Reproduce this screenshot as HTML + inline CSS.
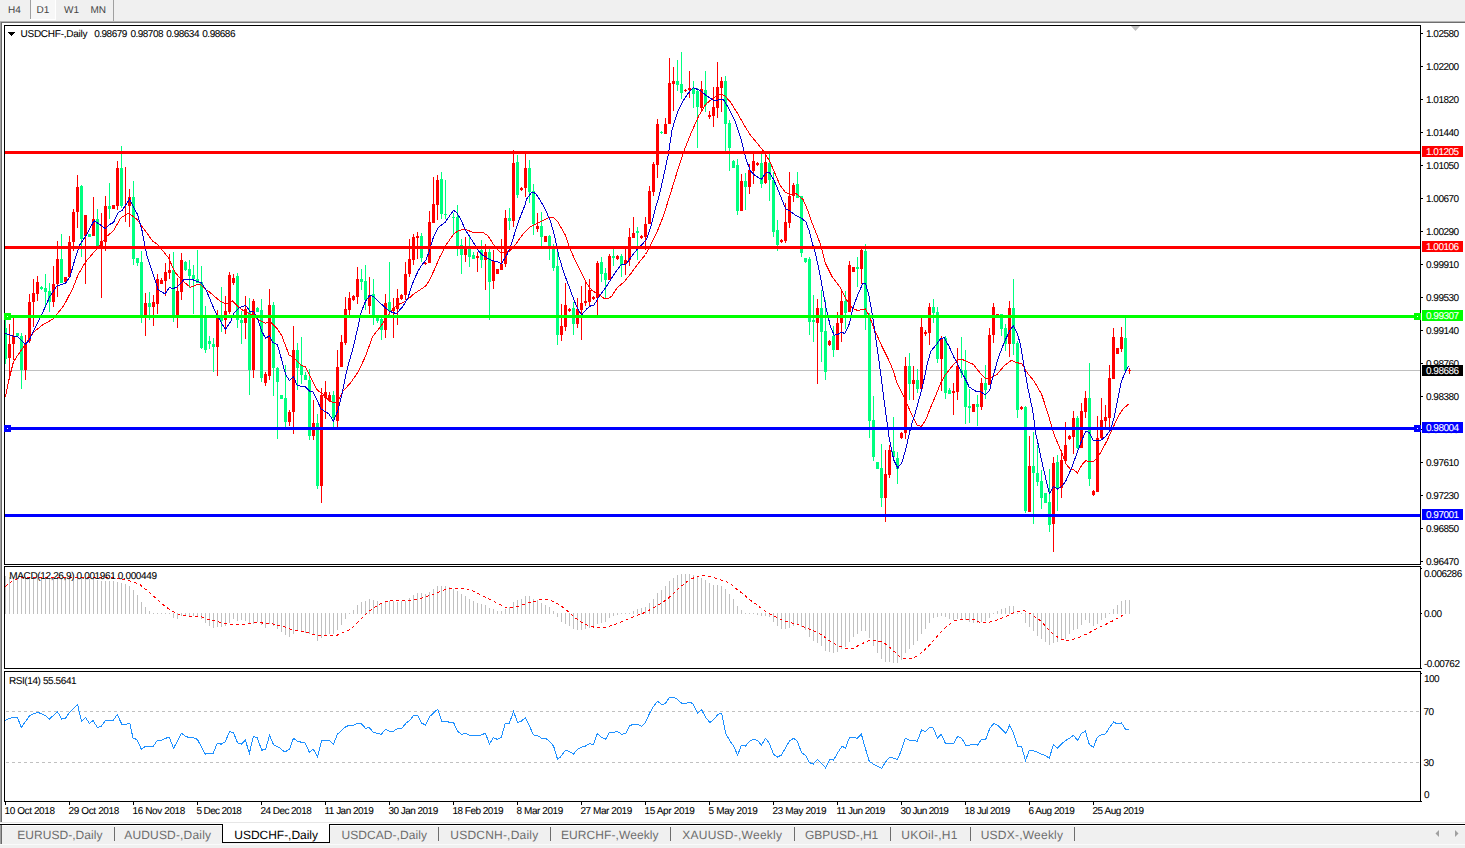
<!DOCTYPE html><html><head><meta charset="utf-8"><title>USDCHF-,Daily</title><style>
html,body{margin:0;padding:0;background:#fff;}body{width:1465px;height:848px;overflow:hidden;position:relative;font-family:"Liberation Sans",sans-serif;}
svg{position:absolute;left:0;top:0;display:block}
text{font-family:"Liberation Sans",sans-serif;text-rendering:geometricPrecision}
.ax{font-size:10px;letter-spacing:-0.5px;fill:#000;stroke:#000;stroke-width:0.08px}
.axw{font-size:10px;letter-spacing:-0.5px;fill:#fff;stroke:#fff;stroke-width:0.08px}
.tt{font-size:10px;fill:#000;stroke:#000;stroke-width:0.08px}
.tab{font-size:12px;fill:#6d6d6d}
.taba{font-size:12px;fill:#000}
.tb{font-size:10px;fill:#444}
</style></head><body>
<svg width="1465" height="848" viewBox="0 0 1465 848">
<g shape-rendering="crispEdges">
<rect x="0" y="0" width="1465" height="848" fill="#fff"/>
<rect x="0" y="0" width="1465" height="21" fill="#f0f0f0"/>
<rect x="0" y="21" width="1465" height="1" fill="#b4b4b4"/>
<rect x="0" y="22" width="1465" height="1" fill="#6e6e6e"/>
<rect x="31" y="0" width="24" height="19" fill="#f7f7f7"/>
<rect x="55" y="0" width="1" height="20" fill="#fff"/>
<rect x="30" y="19" width="26" height="1" fill="#fff"/>
<rect x="30" y="0" width="1" height="19" fill="#a0a0a0"/>
<rect x="113" y="0" width="1" height="21" fill="#a0a0a0"/>
<rect x="0" y="22" width="1" height="800" fill="#a0a0a0"/>
<rect x="1" y="23" width="1" height="799" fill="#696969"/>
<rect x="0" y="822" width="1465" height="1" fill="#e6e6e6"/>
<rect x="0" y="824" width="1465" height="1" fill="#000"/>
<rect x="0" y="825" width="1465" height="1" fill="#fff"/>
<rect x="0" y="826" width="1465" height="18" fill="#f0f0f0"/>
<rect x="0" y="844" width="1465" height="1" fill="#fafafa"/>
<rect x="0" y="845" width="1465" height="3" fill="#f0f0f0"/>
<rect x="0" y="825" width="1" height="19" fill="#a0a0a0"/>
<rect x="1" y="825" width="1" height="19" fill="#696969"/>
<rect x="222" y="824" width="108" height="19" fill="#fff"/>
<rect x="222" y="824" width="1" height="19" fill="#000"/>
<rect x="329" y="824" width="1" height="19" fill="#000"/>
<rect x="222" y="842" width="108" height="1" fill="#000"/>
<rect x="114" y="827" width="1" height="14" fill="#6d6d6d"/>
<rect x="438" y="827" width="1" height="14" fill="#6d6d6d"/>
<rect x="550" y="827" width="1" height="14" fill="#6d6d6d"/>
<rect x="670" y="827" width="1" height="14" fill="#6d6d6d"/>
<rect x="794" y="827" width="1" height="14" fill="#6d6d6d"/>
<rect x="890" y="827" width="1" height="14" fill="#6d6d6d"/>
<rect x="970" y="827" width="1" height="14" fill="#6d6d6d"/>
<rect x="1074" y="827" width="1" height="14" fill="#6d6d6d"/>
<rect x="5" y="370" width="1415" height="1" fill="#c0c0c0"/>
</g>
<g shape-rendering="crispEdges">
<rect x="5" y="316" width="1" height="48" fill="#00ff7f"/>
<rect x="4" y="328" width="3" height="31" fill="#00ff7f"/>
<rect x="9" y="324" width="1" height="51" fill="#ff0000"/>
<rect x="8" y="344" width="3" height="14" fill="#ff0000"/>
<rect x="13" y="318" width="1" height="42" fill="#ff0000"/>
<rect x="12" y="336" width="3" height="8" fill="#ff0000"/>
<rect x="17" y="333" width="1" height="3" fill="#00ff7f"/>
<rect x="16" y="333" width="3" height="3" fill="#00ff7f"/>
<rect x="21" y="333" width="1" height="56" fill="#00ff7f"/>
<rect x="20" y="336" width="3" height="34" fill="#00ff7f"/>
<rect x="25" y="335" width="1" height="45" fill="#ff0000"/>
<rect x="24" y="344" width="3" height="26" fill="#ff0000"/>
<rect x="29" y="294" width="1" height="49" fill="#ff0000"/>
<rect x="28" y="302" width="3" height="39" fill="#ff0000"/>
<rect x="33" y="279" width="1" height="48" fill="#ff0000"/>
<rect x="32" y="293" width="3" height="9" fill="#ff0000"/>
<rect x="37" y="276" width="1" height="25" fill="#ff0000"/>
<rect x="36" y="282" width="3" height="12" fill="#ff0000"/>
<rect x="41" y="286" width="1" height="4" fill="#00ff7f"/>
<rect x="40" y="287" width="3" height="2" fill="#00ff7f"/>
<rect x="45" y="274" width="1" height="34" fill="#00ff7f"/>
<rect x="44" y="288" width="3" height="4" fill="#00ff7f"/>
<rect x="49" y="283" width="1" height="29" fill="#00ff7f"/>
<rect x="48" y="291" width="3" height="11" fill="#00ff7f"/>
<rect x="53" y="266" width="1" height="41" fill="#ff0000"/>
<rect x="52" y="284" width="3" height="18" fill="#ff0000"/>
<rect x="57" y="241" width="1" height="56" fill="#ff0000"/>
<rect x="56" y="259" width="3" height="25" fill="#ff0000"/>
<rect x="61" y="234" width="1" height="49" fill="#00ff7f"/>
<rect x="60" y="259" width="3" height="24" fill="#00ff7f"/>
<rect x="65" y="277" width="1" height="5" fill="#ff0000"/>
<rect x="64" y="277" width="3" height="5" fill="#ff0000"/>
<rect x="69" y="236" width="1" height="41" fill="#ff0000"/>
<rect x="68" y="242" width="3" height="35" fill="#ff0000"/>
<rect x="73" y="209" width="1" height="42" fill="#ff0000"/>
<rect x="72" y="212" width="3" height="30" fill="#ff0000"/>
<rect x="77" y="175" width="1" height="53" fill="#ff0000"/>
<rect x="76" y="187" width="3" height="25" fill="#ff0000"/>
<rect x="81" y="185" width="1" height="72" fill="#00ff7f"/>
<rect x="80" y="186" width="3" height="53" fill="#00ff7f"/>
<rect x="85" y="215" width="1" height="69" fill="#ff0000"/>
<rect x="84" y="215" width="3" height="21" fill="#ff0000"/>
<rect x="89" y="234" width="1" height="3" fill="#00ff7f"/>
<rect x="88" y="234" width="3" height="3" fill="#00ff7f"/>
<rect x="93" y="197" width="1" height="39" fill="#ff0000"/>
<rect x="92" y="219" width="3" height="17" fill="#ff0000"/>
<rect x="97" y="209" width="1" height="37" fill="#00ff7f"/>
<rect x="96" y="219" width="3" height="27" fill="#00ff7f"/>
<rect x="101" y="213" width="1" height="85" fill="#ff0000"/>
<rect x="100" y="241" width="3" height="5" fill="#ff0000"/>
<rect x="105" y="196" width="1" height="55" fill="#ff0000"/>
<rect x="104" y="206" width="3" height="36" fill="#ff0000"/>
<rect x="109" y="183" width="1" height="36" fill="#00ff7f"/>
<rect x="108" y="206" width="3" height="3" fill="#00ff7f"/>
<rect x="113" y="205" width="1" height="4" fill="#ff0000"/>
<rect x="112" y="205" width="3" height="4" fill="#ff0000"/>
<rect x="117" y="161" width="1" height="49" fill="#ff0000"/>
<rect x="116" y="168" width="3" height="38" fill="#ff0000"/>
<rect x="121" y="146" width="1" height="62" fill="#00ff7f"/>
<rect x="120" y="168" width="3" height="38" fill="#00ff7f"/>
<rect x="125" y="167" width="1" height="55" fill="#ff0000"/>
<rect x="129" y="189" width="1" height="38" fill="#ff0000"/>
<rect x="128" y="197" width="3" height="9" fill="#ff0000"/>
<rect x="133" y="181" width="1" height="84" fill="#00ff7f"/>
<rect x="132" y="197" width="3" height="62" fill="#00ff7f"/>
<rect x="137" y="258" width="1" height="8" fill="#00ff7f"/>
<rect x="136" y="258" width="3" height="5" fill="#00ff7f"/>
<rect x="141" y="251" width="1" height="72" fill="#00ff7f"/>
<rect x="140" y="262" width="3" height="53" fill="#00ff7f"/>
<rect x="145" y="293" width="1" height="43" fill="#ff0000"/>
<rect x="144" y="303" width="3" height="12" fill="#ff0000"/>
<rect x="149" y="292" width="1" height="28" fill="#00ff7f"/>
<rect x="148" y="303" width="3" height="4" fill="#00ff7f"/>
<rect x="153" y="295" width="1" height="31" fill="#ff0000"/>
<rect x="152" y="302" width="3" height="5" fill="#ff0000"/>
<rect x="157" y="274" width="1" height="40" fill="#ff0000"/>
<rect x="156" y="279" width="3" height="25" fill="#ff0000"/>
<rect x="161" y="278" width="1" height="6" fill="#ff0000"/>
<rect x="160" y="280" width="3" height="4" fill="#ff0000"/>
<rect x="165" y="263" width="1" height="33" fill="#ff0000"/>
<rect x="164" y="272" width="3" height="9" fill="#ff0000"/>
<rect x="169" y="254" width="1" height="25" fill="#ff0000"/>
<rect x="168" y="270" width="3" height="3" fill="#ff0000"/>
<rect x="173" y="252" width="1" height="70" fill="#00ff7f"/>
<rect x="172" y="270" width="3" height="45" fill="#00ff7f"/>
<rect x="177" y="278" width="1" height="50" fill="#ff0000"/>
<rect x="176" y="291" width="3" height="24" fill="#ff0000"/>
<rect x="181" y="253" width="1" height="47" fill="#ff0000"/>
<rect x="180" y="260" width="3" height="32" fill="#ff0000"/>
<rect x="185" y="261" width="1" height="10" fill="#00ff7f"/>
<rect x="184" y="262" width="3" height="8" fill="#00ff7f"/>
<rect x="189" y="260" width="1" height="28" fill="#00ff7f"/>
<rect x="188" y="269" width="3" height="7" fill="#00ff7f"/>
<rect x="193" y="265" width="1" height="49" fill="#00ff7f"/>
<rect x="192" y="275" width="3" height="4" fill="#00ff7f"/>
<rect x="197" y="250" width="1" height="33" fill="#00ff7f"/>
<rect x="196" y="279" width="3" height="4" fill="#00ff7f"/>
<rect x="201" y="266" width="1" height="83" fill="#00ff7f"/>
<rect x="200" y="282" width="3" height="66" fill="#00ff7f"/>
<rect x="205" y="306" width="1" height="47" fill="#00ff7f"/>
<rect x="204" y="317" width="3" height="33" fill="#00ff7f"/>
<rect x="209" y="336" width="1" height="13" fill="#00ff7f"/>
<rect x="208" y="341" width="3" height="3" fill="#00ff7f"/>
<rect x="213" y="338" width="1" height="34" fill="#00ff7f"/>
<rect x="212" y="344" width="3" height="3" fill="#00ff7f"/>
<rect x="217" y="310" width="1" height="66" fill="#ff0000"/>
<rect x="216" y="317" width="3" height="30" fill="#ff0000"/>
<rect x="221" y="287" width="1" height="45" fill="#00ff7f"/>
<rect x="220" y="318" width="3" height="3" fill="#00ff7f"/>
<rect x="225" y="296" width="1" height="38" fill="#ff0000"/>
<rect x="224" y="311" width="3" height="9" fill="#ff0000"/>
<rect x="229" y="272" width="1" height="42" fill="#ff0000"/>
<rect x="228" y="275" width="3" height="37" fill="#ff0000"/>
<rect x="233" y="274" width="1" height="11" fill="#ff0000"/>
<rect x="232" y="278" width="3" height="5" fill="#ff0000"/>
<rect x="237" y="273" width="1" height="55" fill="#00ff7f"/>
<rect x="236" y="276" width="3" height="44" fill="#00ff7f"/>
<rect x="241" y="311" width="1" height="33" fill="#00ff7f"/>
<rect x="240" y="320" width="3" height="3" fill="#00ff7f"/>
<rect x="245" y="296" width="1" height="43" fill="#ff0000"/>
<rect x="244" y="309" width="3" height="14" fill="#ff0000"/>
<rect x="249" y="298" width="1" height="97" fill="#00ff7f"/>
<rect x="248" y="312" width="3" height="58" fill="#00ff7f"/>
<rect x="253" y="299" width="1" height="79" fill="#ff0000"/>
<rect x="252" y="301" width="3" height="69" fill="#ff0000"/>
<rect x="257" y="307" width="1" height="5" fill="#00ff7f"/>
<rect x="256" y="308" width="3" height="4" fill="#00ff7f"/>
<rect x="261" y="299" width="1" height="83" fill="#00ff7f"/>
<rect x="260" y="310" width="3" height="68" fill="#00ff7f"/>
<rect x="265" y="372" width="1" height="14" fill="#ff0000"/>
<rect x="264" y="374" width="3" height="9" fill="#ff0000"/>
<rect x="269" y="289" width="1" height="91" fill="#ff0000"/>
<rect x="268" y="305" width="3" height="71" fill="#ff0000"/>
<rect x="273" y="302" width="1" height="94" fill="#00ff7f"/>
<rect x="272" y="305" width="3" height="63" fill="#00ff7f"/>
<rect x="277" y="367" width="1" height="72" fill="#00ff7f"/>
<rect x="276" y="368" width="3" height="14" fill="#00ff7f"/>
<rect x="281" y="395" width="1" height="4" fill="#00ff7f"/>
<rect x="280" y="395" width="3" height="4" fill="#00ff7f"/>
<rect x="285" y="365" width="1" height="62" fill="#00ff7f"/>
<rect x="284" y="398" width="3" height="24" fill="#00ff7f"/>
<rect x="289" y="410" width="1" height="16" fill="#ff0000"/>
<rect x="288" y="412" width="3" height="10" fill="#ff0000"/>
<rect x="293" y="326" width="1" height="108" fill="#ff0000"/>
<rect x="292" y="350" width="3" height="62" fill="#ff0000"/>
<rect x="297" y="343" width="1" height="47" fill="#00ff7f"/>
<rect x="296" y="350" width="3" height="18" fill="#00ff7f"/>
<rect x="301" y="337" width="1" height="47" fill="#00ff7f"/>
<rect x="300" y="365" width="3" height="10" fill="#00ff7f"/>
<rect x="305" y="372" width="1" height="8" fill="#00ff7f"/>
<rect x="304" y="375" width="3" height="5" fill="#00ff7f"/>
<rect x="309" y="369" width="1" height="71" fill="#00ff7f"/>
<rect x="308" y="380" width="3" height="56" fill="#00ff7f"/>
<rect x="313" y="400" width="1" height="40" fill="#ff0000"/>
<rect x="312" y="423" width="3" height="13" fill="#ff0000"/>
<rect x="317" y="414" width="1" height="75" fill="#00ff7f"/>
<rect x="316" y="423" width="3" height="63" fill="#00ff7f"/>
<rect x="321" y="388" width="1" height="115" fill="#ff0000"/>
<rect x="320" y="395" width="3" height="91" fill="#ff0000"/>
<rect x="325" y="381" width="1" height="38" fill="#ff0000"/>
<rect x="324" y="392" width="3" height="6" fill="#ff0000"/>
<rect x="329" y="392" width="1" height="9" fill="#ff0000"/>
<rect x="328" y="395" width="3" height="6" fill="#ff0000"/>
<rect x="333" y="391" width="1" height="36" fill="#00ff7f"/>
<rect x="332" y="395" width="3" height="23" fill="#00ff7f"/>
<rect x="337" y="350" width="1" height="77" fill="#ff0000"/>
<rect x="336" y="367" width="3" height="54" fill="#ff0000"/>
<rect x="341" y="335" width="1" height="32" fill="#ff0000"/>
<rect x="340" y="342" width="3" height="25" fill="#ff0000"/>
<rect x="345" y="297" width="1" height="48" fill="#ff0000"/>
<rect x="344" y="309" width="3" height="34" fill="#ff0000"/>
<rect x="349" y="292" width="1" height="23" fill="#ff0000"/>
<rect x="348" y="298" width="3" height="12" fill="#ff0000"/>
<rect x="353" y="295" width="1" height="6" fill="#ff0000"/>
<rect x="352" y="296" width="3" height="4" fill="#ff0000"/>
<rect x="357" y="267" width="1" height="37" fill="#ff0000"/>
<rect x="356" y="279" width="3" height="18" fill="#ff0000"/>
<rect x="361" y="269" width="1" height="21" fill="#00ff7f"/>
<rect x="360" y="279" width="3" height="3" fill="#00ff7f"/>
<rect x="365" y="265" width="1" height="45" fill="#00ff7f"/>
<rect x="364" y="281" width="3" height="19" fill="#00ff7f"/>
<rect x="369" y="277" width="1" height="37" fill="#ff0000"/>
<rect x="368" y="295" width="3" height="11" fill="#ff0000"/>
<rect x="373" y="279" width="1" height="46" fill="#00ff7f"/>
<rect x="372" y="294" width="3" height="24" fill="#00ff7f"/>
<rect x="377" y="318" width="1" height="5" fill="#00ff7f"/>
<rect x="376" y="318" width="3" height="3" fill="#00ff7f"/>
<rect x="381" y="318" width="1" height="22" fill="#00ff7f"/>
<rect x="380" y="319" width="3" height="11" fill="#00ff7f"/>
<rect x="385" y="294" width="1" height="44" fill="#ff0000"/>
<rect x="384" y="303" width="3" height="27" fill="#ff0000"/>
<rect x="389" y="262" width="1" height="56" fill="#00ff7f"/>
<rect x="388" y="302" width="3" height="9" fill="#00ff7f"/>
<rect x="393" y="298" width="1" height="40" fill="#ff0000"/>
<rect x="392" y="308" width="3" height="3" fill="#ff0000"/>
<rect x="397" y="289" width="1" height="36" fill="#ff0000"/>
<rect x="396" y="298" width="3" height="11" fill="#ff0000"/>
<rect x="401" y="294" width="1" height="6" fill="#ff0000"/>
<rect x="400" y="295" width="3" height="4" fill="#ff0000"/>
<rect x="405" y="262" width="1" height="38" fill="#ff0000"/>
<rect x="404" y="274" width="3" height="21" fill="#ff0000"/>
<rect x="409" y="239" width="1" height="38" fill="#ff0000"/>
<rect x="408" y="259" width="3" height="15" fill="#ff0000"/>
<rect x="413" y="234" width="1" height="31" fill="#ff0000"/>
<rect x="412" y="237" width="3" height="23" fill="#ff0000"/>
<rect x="417" y="232" width="1" height="27" fill="#ff0000"/>
<rect x="416" y="236" width="3" height="2" fill="#ff0000"/>
<rect x="421" y="233" width="1" height="29" fill="#00ff7f"/>
<rect x="420" y="236" width="3" height="22" fill="#00ff7f"/>
<rect x="425" y="262" width="1" height="3" fill="#ff0000"/>
<rect x="424" y="263" width="3" height="1" fill="#ff0000"/>
<rect x="429" y="211" width="1" height="52" fill="#ff0000"/>
<rect x="428" y="222" width="3" height="41" fill="#ff0000"/>
<rect x="433" y="177" width="1" height="46" fill="#ff0000"/>
<rect x="432" y="204" width="3" height="19" fill="#ff0000"/>
<rect x="437" y="175" width="1" height="45" fill="#ff0000"/>
<rect x="436" y="180" width="3" height="25" fill="#ff0000"/>
<rect x="441" y="172" width="1" height="47" fill="#00ff7f"/>
<rect x="440" y="179" width="3" height="35" fill="#00ff7f"/>
<rect x="445" y="180" width="1" height="39" fill="#00ff7f"/>
<rect x="444" y="214" width="3" height="1" fill="#00ff7f"/>
<rect x="453" y="213" width="1" height="22" fill="#00ff7f"/>
<rect x="452" y="217" width="3" height="1" fill="#00ff7f"/>
<rect x="457" y="205" width="1" height="51" fill="#00ff7f"/>
<rect x="456" y="217" width="3" height="29" fill="#00ff7f"/>
<rect x="461" y="239" width="1" height="35" fill="#00ff7f"/>
<rect x="460" y="245" width="3" height="10" fill="#00ff7f"/>
<rect x="465" y="237" width="1" height="25" fill="#ff0000"/>
<rect x="464" y="249" width="3" height="6" fill="#ff0000"/>
<rect x="469" y="237" width="1" height="30" fill="#00ff7f"/>
<rect x="468" y="249" width="3" height="8" fill="#00ff7f"/>
<rect x="473" y="252" width="1" height="7" fill="#00ff7f"/>
<rect x="472" y="255" width="3" height="4" fill="#00ff7f"/>
<rect x="477" y="252" width="1" height="20" fill="#ff0000"/>
<rect x="476" y="256" width="3" height="2" fill="#ff0000"/>
<rect x="481" y="240" width="1" height="28" fill="#00ff7f"/>
<rect x="480" y="250" width="3" height="10" fill="#00ff7f"/>
<rect x="485" y="244" width="1" height="46" fill="#ff0000"/>
<rect x="484" y="252" width="3" height="8" fill="#ff0000"/>
<rect x="489" y="249" width="1" height="71" fill="#00ff7f"/>
<rect x="488" y="252" width="3" height="30" fill="#00ff7f"/>
<rect x="493" y="250" width="1" height="39" fill="#ff0000"/>
<rect x="492" y="261" width="3" height="20" fill="#ff0000"/>
<rect x="497" y="269" width="1" height="5" fill="#ff0000"/>
<rect x="496" y="269" width="3" height="5" fill="#ff0000"/>
<rect x="501" y="239" width="1" height="31" fill="#ff0000"/>
<rect x="500" y="264" width="3" height="6" fill="#ff0000"/>
<rect x="505" y="210" width="1" height="57" fill="#ff0000"/>
<rect x="504" y="218" width="3" height="46" fill="#ff0000"/>
<rect x="509" y="208" width="1" height="22" fill="#00ff7f"/>
<rect x="508" y="218" width="3" height="3" fill="#00ff7f"/>
<rect x="513" y="150" width="1" height="77" fill="#ff0000"/>
<rect x="512" y="163" width="3" height="58" fill="#ff0000"/>
<rect x="517" y="155" width="1" height="43" fill="#00ff7f"/>
<rect x="516" y="162" width="3" height="33" fill="#00ff7f"/>
<rect x="521" y="187" width="1" height="4" fill="#ff0000"/>
<rect x="520" y="188" width="3" height="2" fill="#ff0000"/>
<rect x="525" y="154" width="1" height="43" fill="#ff0000"/>
<rect x="524" y="168" width="3" height="20" fill="#ff0000"/>
<rect x="529" y="160" width="1" height="43" fill="#00ff7f"/>
<rect x="528" y="168" width="3" height="24" fill="#00ff7f"/>
<rect x="533" y="184" width="1" height="51" fill="#00ff7f"/>
<rect x="532" y="191" width="3" height="33" fill="#00ff7f"/>
<rect x="537" y="213" width="1" height="19" fill="#ff0000"/>
<rect x="536" y="226" width="3" height="3" fill="#ff0000"/>
<rect x="541" y="212" width="1" height="34" fill="#00ff7f"/>
<rect x="540" y="226" width="3" height="11" fill="#00ff7f"/>
<rect x="545" y="236" width="1" height="6" fill="#ff0000"/>
<rect x="544" y="236" width="3" height="6" fill="#ff0000"/>
<rect x="549" y="235" width="1" height="25" fill="#00ff7f"/>
<rect x="548" y="236" width="3" height="10" fill="#00ff7f"/>
<rect x="553" y="244" width="1" height="27" fill="#00ff7f"/>
<rect x="552" y="246" width="3" height="22" fill="#00ff7f"/>
<rect x="557" y="246" width="1" height="99" fill="#00ff7f"/>
<rect x="556" y="266" width="3" height="69" fill="#00ff7f"/>
<rect x="561" y="304" width="1" height="37" fill="#ff0000"/>
<rect x="560" y="326" width="3" height="9" fill="#ff0000"/>
<rect x="565" y="283" width="1" height="48" fill="#ff0000"/>
<rect x="564" y="305" width="3" height="22" fill="#ff0000"/>
<rect x="569" y="308" width="1" height="4" fill="#ff0000"/>
<rect x="568" y="309" width="3" height="2" fill="#ff0000"/>
<rect x="573" y="302" width="1" height="33" fill="#00ff7f"/>
<rect x="572" y="308" width="3" height="16" fill="#00ff7f"/>
<rect x="577" y="298" width="1" height="30" fill="#ff0000"/>
<rect x="576" y="309" width="3" height="15" fill="#ff0000"/>
<rect x="581" y="286" width="1" height="54" fill="#ff0000"/>
<rect x="580" y="303" width="3" height="7" fill="#ff0000"/>
<rect x="585" y="280" width="1" height="26" fill="#ff0000"/>
<rect x="584" y="301" width="3" height="2" fill="#ff0000"/>
<rect x="589" y="279" width="1" height="27" fill="#ff0000"/>
<rect x="588" y="290" width="3" height="12" fill="#ff0000"/>
<rect x="593" y="296" width="1" height="4" fill="#ff0000"/>
<rect x="592" y="297" width="3" height="2" fill="#ff0000"/>
<rect x="597" y="261" width="1" height="54" fill="#ff0000"/>
<rect x="596" y="263" width="3" height="35" fill="#ff0000"/>
<rect x="601" y="257" width="1" height="25" fill="#00ff7f"/>
<rect x="600" y="262" width="3" height="12" fill="#00ff7f"/>
<rect x="605" y="268" width="1" height="30" fill="#00ff7f"/>
<rect x="604" y="273" width="3" height="7" fill="#00ff7f"/>
<rect x="609" y="254" width="1" height="26" fill="#ff0000"/>
<rect x="608" y="256" width="3" height="24" fill="#ff0000"/>
<rect x="613" y="249" width="1" height="17" fill="#00ff7f"/>
<rect x="612" y="256" width="3" height="2" fill="#00ff7f"/>
<rect x="617" y="255" width="1" height="5" fill="#ff0000"/>
<rect x="616" y="256" width="3" height="3" fill="#ff0000"/>
<rect x="621" y="254" width="1" height="23" fill="#00ff7f"/>
<rect x="620" y="256" width="3" height="9" fill="#00ff7f"/>
<rect x="625" y="248" width="1" height="27" fill="#ff0000"/>
<rect x="624" y="260" width="3" height="4" fill="#ff0000"/>
<rect x="629" y="228" width="1" height="38" fill="#ff0000"/>
<rect x="628" y="237" width="3" height="23" fill="#ff0000"/>
<rect x="633" y="217" width="1" height="21" fill="#ff0000"/>
<rect x="632" y="233" width="3" height="5" fill="#ff0000"/>
<rect x="637" y="227" width="1" height="33" fill="#00ff7f"/>
<rect x="636" y="231" width="3" height="2" fill="#00ff7f"/>
<rect x="641" y="235" width="1" height="4" fill="#ff0000"/>
<rect x="640" y="236" width="3" height="2" fill="#ff0000"/>
<rect x="645" y="217" width="1" height="33" fill="#ff0000"/>
<rect x="644" y="224" width="3" height="13" fill="#ff0000"/>
<rect x="649" y="186" width="1" height="38" fill="#ff0000"/>
<rect x="648" y="191" width="3" height="33" fill="#ff0000"/>
<rect x="653" y="162" width="1" height="34" fill="#ff0000"/>
<rect x="652" y="164" width="3" height="28" fill="#ff0000"/>
<rect x="657" y="119" width="1" height="59" fill="#ff0000"/>
<rect x="656" y="124" width="3" height="41" fill="#ff0000"/>
<rect x="661" y="131" width="1" height="3" fill="#00ff7f"/>
<rect x="660" y="132" width="3" height="1" fill="#00ff7f"/>
<rect x="665" y="118" width="1" height="16" fill="#ff0000"/>
<rect x="664" y="124" width="3" height="10" fill="#ff0000"/>
<rect x="669" y="58" width="1" height="66" fill="#ff0000"/>
<rect x="668" y="83" width="3" height="41" fill="#ff0000"/>
<rect x="673" y="67" width="1" height="44" fill="#ff0000"/>
<rect x="672" y="81" width="3" height="3" fill="#ff0000"/>
<rect x="677" y="60" width="1" height="31" fill="#00ff7f"/>
<rect x="676" y="81" width="3" height="4" fill="#00ff7f"/>
<rect x="681" y="52" width="1" height="47" fill="#00ff7f"/>
<rect x="680" y="84" width="3" height="9" fill="#00ff7f"/>
<rect x="685" y="89" width="1" height="3" fill="#ff0000"/>
<rect x="684" y="90" width="3" height="1" fill="#ff0000"/>
<rect x="689" y="71" width="1" height="27" fill="#ff0000"/>
<rect x="688" y="88" width="3" height="2" fill="#ff0000"/>
<rect x="693" y="81" width="1" height="27" fill="#00ff7f"/>
<rect x="692" y="88" width="3" height="6" fill="#00ff7f"/>
<rect x="697" y="88" width="1" height="60" fill="#00ff7f"/>
<rect x="696" y="91" width="3" height="16" fill="#00ff7f"/>
<rect x="701" y="81" width="1" height="29" fill="#ff0000"/>
<rect x="700" y="89" width="3" height="19" fill="#ff0000"/>
<rect x="705" y="71" width="1" height="41" fill="#00ff7f"/>
<rect x="704" y="90" width="3" height="15" fill="#00ff7f"/>
<rect x="709" y="111" width="1" height="8" fill="#ff0000"/>
<rect x="708" y="115" width="3" height="2" fill="#ff0000"/>
<rect x="713" y="87" width="1" height="40" fill="#ff0000"/>
<rect x="712" y="107" width="3" height="9" fill="#ff0000"/>
<rect x="717" y="62" width="1" height="56" fill="#ff0000"/>
<rect x="716" y="87" width="3" height="21" fill="#ff0000"/>
<rect x="721" y="77" width="1" height="35" fill="#ff0000"/>
<rect x="720" y="81" width="3" height="7" fill="#ff0000"/>
<rect x="725" y="76" width="1" height="75" fill="#00ff7f"/>
<rect x="724" y="81" width="3" height="43" fill="#00ff7f"/>
<rect x="729" y="120" width="1" height="51" fill="#00ff7f"/>
<rect x="728" y="123" width="3" height="25" fill="#00ff7f"/>
<rect x="733" y="160" width="1" height="8" fill="#00ff7f"/>
<rect x="732" y="161" width="3" height="7" fill="#00ff7f"/>
<rect x="737" y="159" width="1" height="56" fill="#00ff7f"/>
<rect x="736" y="165" width="3" height="46" fill="#00ff7f"/>
<rect x="741" y="174" width="1" height="37" fill="#ff0000"/>
<rect x="740" y="181" width="3" height="30" fill="#ff0000"/>
<rect x="745" y="173" width="1" height="37" fill="#00ff7f"/>
<rect x="744" y="181" width="3" height="6" fill="#00ff7f"/>
<rect x="749" y="164" width="1" height="30" fill="#ff0000"/>
<rect x="748" y="170" width="3" height="17" fill="#ff0000"/>
<rect x="753" y="154" width="1" height="30" fill="#ff0000"/>
<rect x="752" y="161" width="3" height="10" fill="#ff0000"/>
<rect x="757" y="162" width="1" height="4" fill="#ff0000"/>
<rect x="756" y="163" width="3" height="2" fill="#ff0000"/>
<rect x="761" y="154" width="1" height="34" fill="#00ff7f"/>
<rect x="760" y="163" width="3" height="21" fill="#00ff7f"/>
<rect x="765" y="151" width="1" height="33" fill="#ff0000"/>
<rect x="764" y="162" width="3" height="21" fill="#ff0000"/>
<rect x="769" y="154" width="1" height="47" fill="#00ff7f"/>
<rect x="768" y="163" width="3" height="17" fill="#00ff7f"/>
<rect x="773" y="172" width="1" height="65" fill="#00ff7f"/>
<rect x="772" y="180" width="3" height="52" fill="#00ff7f"/>
<rect x="777" y="220" width="1" height="31" fill="#00ff7f"/>
<rect x="776" y="230" width="3" height="15" fill="#00ff7f"/>
<rect x="781" y="239" width="1" height="4" fill="#ff0000"/>
<rect x="780" y="240" width="3" height="2" fill="#ff0000"/>
<rect x="785" y="203" width="1" height="40" fill="#ff0000"/>
<rect x="784" y="222" width="3" height="19" fill="#ff0000"/>
<rect x="789" y="172" width="1" height="56" fill="#ff0000"/>
<rect x="788" y="196" width="3" height="27" fill="#ff0000"/>
<rect x="793" y="183" width="1" height="19" fill="#ff0000"/>
<rect x="792" y="185" width="3" height="11" fill="#ff0000"/>
<rect x="797" y="172" width="1" height="26" fill="#00ff7f"/>
<rect x="796" y="184" width="3" height="14" fill="#00ff7f"/>
<rect x="801" y="196" width="1" height="61" fill="#00ff7f"/>
<rect x="800" y="196" width="3" height="57" fill="#00ff7f"/>
<rect x="805" y="258" width="1" height="5" fill="#00ff7f"/>
<rect x="804" y="258" width="3" height="4" fill="#00ff7f"/>
<rect x="809" y="257" width="1" height="78" fill="#00ff7f"/>
<rect x="808" y="259" width="3" height="63" fill="#00ff7f"/>
<rect x="813" y="295" width="1" height="47" fill="#00ff7f"/>
<rect x="812" y="320" width="3" height="2" fill="#00ff7f"/>
<rect x="817" y="299" width="1" height="85" fill="#ff0000"/>
<rect x="816" y="308" width="3" height="15" fill="#ff0000"/>
<rect x="821" y="290" width="1" height="72" fill="#00ff7f"/>
<rect x="820" y="308" width="3" height="24" fill="#00ff7f"/>
<rect x="825" y="300" width="1" height="80" fill="#00ff7f"/>
<rect x="824" y="331" width="3" height="41" fill="#00ff7f"/>
<rect x="829" y="340" width="1" height="6" fill="#ff0000"/>
<rect x="828" y="341" width="3" height="4" fill="#ff0000"/>
<rect x="833" y="326" width="1" height="31" fill="#00ff7f"/>
<rect x="832" y="336" width="3" height="14" fill="#00ff7f"/>
<rect x="837" y="312" width="1" height="38" fill="#ff0000"/>
<rect x="836" y="323" width="3" height="27" fill="#ff0000"/>
<rect x="841" y="290" width="1" height="52" fill="#ff0000"/>
<rect x="840" y="301" width="3" height="22" fill="#ff0000"/>
<rect x="845" y="291" width="1" height="38" fill="#00ff7f"/>
<rect x="844" y="301" width="3" height="12" fill="#00ff7f"/>
<rect x="849" y="261" width="1" height="51" fill="#ff0000"/>
<rect x="848" y="265" width="3" height="47" fill="#ff0000"/>
<rect x="853" y="267" width="1" height="5" fill="#ff0000"/>
<rect x="852" y="267" width="3" height="5" fill="#ff0000"/>
<rect x="857" y="257" width="1" height="30" fill="#00ff7f"/>
<rect x="856" y="267" width="3" height="2" fill="#00ff7f"/>
<rect x="861" y="248" width="1" height="36" fill="#ff0000"/>
<rect x="860" y="250" width="3" height="19" fill="#ff0000"/>
<rect x="865" y="244" width="1" height="86" fill="#00ff7f"/>
<rect x="864" y="251" width="3" height="67" fill="#00ff7f"/>
<rect x="869" y="313" width="1" height="125" fill="#00ff7f"/>
<rect x="868" y="318" width="3" height="103" fill="#00ff7f"/>
<rect x="873" y="396" width="1" height="65" fill="#00ff7f"/>
<rect x="872" y="420" width="3" height="37" fill="#00ff7f"/>
<rect x="877" y="462" width="1" height="7" fill="#00ff7f"/>
<rect x="876" y="462" width="3" height="7" fill="#00ff7f"/>
<rect x="881" y="444" width="1" height="63" fill="#00ff7f"/>
<rect x="880" y="468" width="3" height="30" fill="#00ff7f"/>
<rect x="885" y="450" width="1" height="72" fill="#ff0000"/>
<rect x="884" y="474" width="3" height="24" fill="#ff0000"/>
<rect x="889" y="445" width="1" height="33" fill="#ff0000"/>
<rect x="888" y="450" width="3" height="25" fill="#ff0000"/>
<rect x="893" y="417" width="1" height="40" fill="#00ff7f"/>
<rect x="892" y="451" width="3" height="6" fill="#00ff7f"/>
<rect x="897" y="452" width="1" height="32" fill="#00ff7f"/>
<rect x="896" y="458" width="3" height="11" fill="#00ff7f"/>
<rect x="901" y="432" width="1" height="7" fill="#ff0000"/>
<rect x="900" y="433" width="3" height="5" fill="#ff0000"/>
<rect x="905" y="357" width="1" height="82" fill="#ff0000"/>
<rect x="904" y="366" width="3" height="67" fill="#ff0000"/>
<rect x="909" y="353" width="1" height="47" fill="#00ff7f"/>
<rect x="908" y="366" width="3" height="18" fill="#00ff7f"/>
<rect x="913" y="366" width="1" height="34" fill="#ff0000"/>
<rect x="912" y="380" width="3" height="4" fill="#ff0000"/>
<rect x="917" y="369" width="1" height="24" fill="#00ff7f"/>
<rect x="916" y="380" width="3" height="9" fill="#00ff7f"/>
<rect x="921" y="318" width="1" height="71" fill="#ff0000"/>
<rect x="920" y="327" width="3" height="62" fill="#ff0000"/>
<rect x="925" y="330" width="1" height="6" fill="#ff0000"/>
<rect x="924" y="332" width="3" height="2" fill="#ff0000"/>
<rect x="929" y="303" width="1" height="42" fill="#ff0000"/>
<rect x="928" y="307" width="3" height="26" fill="#ff0000"/>
<rect x="933" y="299" width="1" height="24" fill="#00ff7f"/>
<rect x="932" y="307" width="3" height="6" fill="#00ff7f"/>
<rect x="937" y="307" width="1" height="56" fill="#00ff7f"/>
<rect x="936" y="312" width="3" height="47" fill="#00ff7f"/>
<rect x="941" y="336" width="1" height="55" fill="#ff0000"/>
<rect x="940" y="338" width="3" height="21" fill="#ff0000"/>
<rect x="945" y="336" width="1" height="63" fill="#00ff7f"/>
<rect x="944" y="338" width="3" height="55" fill="#00ff7f"/>
<rect x="949" y="388" width="1" height="6" fill="#00ff7f"/>
<rect x="948" y="390" width="3" height="4" fill="#00ff7f"/>
<rect x="953" y="383" width="1" height="32" fill="#ff0000"/>
<rect x="952" y="391" width="3" height="2" fill="#ff0000"/>
<rect x="957" y="348" width="1" height="52" fill="#ff0000"/>
<rect x="956" y="366" width="3" height="26" fill="#ff0000"/>
<rect x="961" y="337" width="1" height="41" fill="#00ff7f"/>
<rect x="960" y="370" width="3" height="3" fill="#00ff7f"/>
<rect x="965" y="350" width="1" height="74" fill="#00ff7f"/>
<rect x="964" y="370" width="3" height="37" fill="#00ff7f"/>
<rect x="969" y="389" width="1" height="34" fill="#00ff7f"/>
<rect x="968" y="406" width="3" height="2" fill="#00ff7f"/>
<rect x="973" y="404" width="1" height="8" fill="#ff0000"/>
<rect x="972" y="404" width="3" height="8" fill="#ff0000"/>
<rect x="977" y="395" width="1" height="31" fill="#00ff7f"/>
<rect x="976" y="404" width="3" height="3" fill="#00ff7f"/>
<rect x="981" y="378" width="1" height="32" fill="#ff0000"/>
<rect x="980" y="383" width="3" height="24" fill="#ff0000"/>
<rect x="985" y="365" width="1" height="34" fill="#00ff7f"/>
<rect x="984" y="383" width="3" height="7" fill="#00ff7f"/>
<rect x="989" y="328" width="1" height="57" fill="#ff0000"/>
<rect x="988" y="335" width="3" height="50" fill="#ff0000"/>
<rect x="993" y="303" width="1" height="40" fill="#ff0000"/>
<rect x="992" y="307" width="3" height="28" fill="#ff0000"/>
<rect x="997" y="314" width="1" height="2" fill="#ff0000"/>
<rect x="996" y="314" width="3" height="2" fill="#ff0000"/>
<rect x="1001" y="314" width="1" height="22" fill="#00ff7f"/>
<rect x="1000" y="314" width="3" height="15" fill="#00ff7f"/>
<rect x="1005" y="324" width="1" height="27" fill="#00ff7f"/>
<rect x="1004" y="328" width="3" height="16" fill="#00ff7f"/>
<rect x="1009" y="301" width="1" height="56" fill="#ff0000"/>
<rect x="1008" y="308" width="3" height="36" fill="#ff0000"/>
<rect x="1013" y="279" width="1" height="76" fill="#00ff7f"/>
<rect x="1012" y="308" width="3" height="36" fill="#00ff7f"/>
<rect x="1017" y="341" width="1" height="77" fill="#00ff7f"/>
<rect x="1016" y="343" width="3" height="67" fill="#00ff7f"/>
<rect x="1021" y="406" width="1" height="4" fill="#ff0000"/>
<rect x="1020" y="407" width="3" height="2" fill="#ff0000"/>
<rect x="1025" y="406" width="1" height="107" fill="#00ff7f"/>
<rect x="1024" y="407" width="3" height="104" fill="#00ff7f"/>
<rect x="1029" y="436" width="1" height="76" fill="#ff0000"/>
<rect x="1028" y="466" width="3" height="46" fill="#ff0000"/>
<rect x="1033" y="432" width="1" height="92" fill="#00ff7f"/>
<rect x="1032" y="466" width="3" height="7" fill="#00ff7f"/>
<rect x="1037" y="445" width="1" height="41" fill="#00ff7f"/>
<rect x="1036" y="473" width="3" height="9" fill="#00ff7f"/>
<rect x="1041" y="470" width="1" height="39" fill="#00ff7f"/>
<rect x="1040" y="481" width="3" height="17" fill="#00ff7f"/>
<rect x="1045" y="493" width="1" height="10" fill="#00ff7f"/>
<rect x="1044" y="493" width="3" height="10" fill="#00ff7f"/>
<rect x="1049" y="469" width="1" height="63" fill="#00ff7f"/>
<rect x="1048" y="502" width="3" height="23" fill="#00ff7f"/>
<rect x="1053" y="457" width="1" height="95" fill="#ff0000"/>
<rect x="1052" y="463" width="3" height="61" fill="#ff0000"/>
<rect x="1057" y="455" width="1" height="56" fill="#00ff7f"/>
<rect x="1056" y="462" width="3" height="26" fill="#00ff7f"/>
<rect x="1061" y="450" width="1" height="48" fill="#ff0000"/>
<rect x="1060" y="460" width="3" height="28" fill="#ff0000"/>
<rect x="1065" y="422" width="1" height="39" fill="#ff0000"/>
<rect x="1064" y="445" width="3" height="16" fill="#ff0000"/>
<rect x="1069" y="435" width="1" height="5" fill="#ff0000"/>
<rect x="1068" y="436" width="3" height="3" fill="#ff0000"/>
<rect x="1073" y="411" width="1" height="43" fill="#ff0000"/>
<rect x="1072" y="418" width="3" height="19" fill="#ff0000"/>
<rect x="1077" y="416" width="1" height="33" fill="#00ff7f"/>
<rect x="1076" y="418" width="3" height="30" fill="#00ff7f"/>
<rect x="1081" y="403" width="1" height="45" fill="#ff0000"/>
<rect x="1080" y="411" width="3" height="37" fill="#ff0000"/>
<rect x="1085" y="391" width="1" height="27" fill="#ff0000"/>
<rect x="1084" y="398" width="3" height="14" fill="#ff0000"/>
<rect x="1089" y="363" width="1" height="123" fill="#00ff7f"/>
<rect x="1088" y="398" width="3" height="81" fill="#00ff7f"/>
<rect x="1093" y="490" width="1" height="6" fill="#ff0000"/>
<rect x="1092" y="491" width="3" height="4" fill="#ff0000"/>
<rect x="1097" y="416" width="1" height="76" fill="#ff0000"/>
<rect x="1096" y="438" width="3" height="54" fill="#ff0000"/>
<rect x="1101" y="398" width="1" height="42" fill="#ff0000"/>
<rect x="1100" y="420" width="3" height="18" fill="#ff0000"/>
<rect x="1105" y="405" width="1" height="23" fill="#ff0000"/>
<rect x="1104" y="417" width="3" height="4" fill="#ff0000"/>
<rect x="1109" y="365" width="1" height="62" fill="#ff0000"/>
<rect x="1108" y="378" width="3" height="40" fill="#ff0000"/>
<rect x="1113" y="328" width="1" height="51" fill="#ff0000"/>
<rect x="1112" y="337" width="3" height="42" fill="#ff0000"/>
<rect x="1117" y="348" width="1" height="6" fill="#ff0000"/>
<rect x="1116" y="348" width="3" height="6" fill="#ff0000"/>
<rect x="1121" y="327" width="1" height="25" fill="#ff0000"/>
<rect x="1120" y="337" width="3" height="12" fill="#ff0000"/>
<rect x="1125" y="318" width="1" height="53" fill="#00ff7f"/>
<rect x="1124" y="338" width="3" height="33" fill="#00ff7f"/>
<rect x="1129" y="368" width="1" height="6" fill="#ff0000"/>
<rect x="1128" y="370" width="3" height="1" fill="#ff0000"/>
</g>
<g shape-rendering="crispEdges">
<polyline points="5.5,396.9 8.9,380.0 13.3,362.3 17.7,355.2 25.4,344.5 33.7,332.0 42.6,325.0 53.2,318.8 63.9,305.5 72.8,288.3 78.0,274.9 85.2,262.4 95.8,250.0 106.5,236.7 113.6,230.5 120.7,218.0 128.7,213.0 136.6,219.0 143.7,228.7 152.6,241.0 157.9,244.7 168.6,258.0 174.8,272.0 181.9,280.3 190.5,287.3 197.0,284.6 200.9,284.7 205.9,290.0 209.4,292.0 220.0,301.0 226.3,304.0 232.5,301.0 237.8,306.4 244.9,311.7 252.0,315.0 258.0,319.3 265.6,323.4 269.5,321.0 276.6,328.0 281.9,336.0 289.0,354.8 293.5,357.4 301.5,365.4 305.4,366.7 310.3,377.0 317.4,390.3 321.9,393.0 329.0,400.9 333.4,402.7 337.8,401.8 343.2,391.0 351.0,382.3 358.3,371.6 365.4,356.5 372.4,337.0 381.3,325.5 390.2,312.0 397.3,305.0 405.3,301.5 413.3,294.4 420.4,289.6 425.7,286.0 429.2,280.8 434.6,269.2 439.9,256.8 447.0,243.5 454.0,233.7 459.4,230.2 465.6,229.3 471.8,232.0 482.5,232.3 487.8,235.5 494.0,245.3 500.2,252.2 508.9,251.8 516.0,243.8 523.0,234.0 530.0,227.0 540.8,221.6 548.8,217.7 553.2,217.2 557.7,221.6 565.7,235.8 569.2,246.5 574.5,258.9 581.6,273.0 587.0,283.7 592.3,290.8 598.5,294.4 604.7,298.8 608.3,298.8 611.8,296.0 617.0,288.0 624.0,282.0 631.3,273.0 638.4,263.3 645.5,254.5 650.8,244.7 656.2,234.0 663.3,216.3 668.6,199.5 677.5,170.7 684.6,149.4 691.7,131.6 698.8,115.7 705.9,104.0 713.0,98.3 720.0,94.4 724.5,95.3 730.7,102.4 737.8,113.9 744.9,126.3 751.0,136.0 757.0,142.9 763.3,150.9 769.5,160.7 774.8,173.0 780.2,185.5 785.5,192.6 790.8,194.4 796.0,193.5 803.2,199.7 807.7,210.3 812.0,222.8 816.9,235.0 821.0,245.6 825.4,263.4 831.6,275.8 840.5,288.0 845.8,298.9 852.9,308.6 857.4,310.4 865.4,309.0 868.9,314.9 874.2,329.0 881.3,345.0 888.4,359.2 893.7,371.6 896.5,382.0 902.6,394.0 909.7,410.0 916.8,425.0 921.3,426.5 925.7,419.9 931.0,406.6 936.3,394.0 941.2,382.0 945.2,375.0 952.3,366.0 957.6,360.0 961.2,359.0 966.5,361.4 973.6,364.5 978.9,371.6 986.0,378.7 991.3,377.5 997.0,374.5 1004.0,366.0 1011.3,360.3 1016.6,362.5 1022.0,363.9 1027.3,372.8 1034.4,381.6 1041.5,394.0 1046.8,410.0 1051.0,424.0 1053.9,434.0 1061.0,451.0 1066.3,464.4 1070.7,469.7 1073.4,469.3 1077.3,472.9 1082.3,464.4 1085.8,460.8 1093.0,461.7 1096.5,459.0 1101.0,452.0 1107.0,440.8 1112.4,429.0 1117.8,417.0 1123.0,409.0 1128.4,404.3" fill="none" stroke="#ff0000" stroke-width="1"/>
<polyline points="5.5,333.4 13.3,336.0 17.7,337.0 25.4,344.0 29.3,340.0 35.5,326.8 42.6,312.6 49.7,296.6 56.8,286.2 65.7,282.9 70.0,276.8 74.5,260.7 79.9,244.7 87.0,234.0 94.0,220.7 99.4,224.3 105.6,228.7 110.0,224.3 113.6,222.5 118.0,212.8 122.4,210.0 129.5,199.4 137.5,214.5 142.0,230.5 147.3,257.0 151.7,270.0 158.0,289.5 165.0,294.0 169.5,287.4 173.0,288.6 177.5,286.9 183.7,279.8 190.8,279.0 201.4,282.8 205.9,289.5 215.6,312.6 225.4,329.5 230.7,321.5 234.2,312.6 239.6,307.3 245.8,305.5 250.2,311.7 253.5,311.3 258.0,320.0 261.5,330.8 265.6,338.3 269.2,335.8 273.0,342.4 277.5,345.0 282.0,361.0 285.5,374.3 289.4,380.5 293.5,376.6 297.0,385.0 301.5,386.7 305.4,386.7 309.4,391.0 313.0,392.0 317.4,400.9 321.0,408.9 329.0,414.0 333.4,421.3 337.8,410.7 342.3,393.0 346.7,370.7 352.9,348.6 358.3,325.5 360.9,313.0 365.4,301.5 369.8,295.3 374.2,297.0 381.3,304.0 389.3,311.3 396.4,313.6 402.6,306.9 407.9,298.0 409.7,292.3 413.3,281.6 417.7,271.9 421.3,265.7 425.7,260.4 429.2,251.5 432.8,239.0 438.1,227.5 445.2,222.2 453.5,210.3 456.7,212.4 461.2,220.4 465.6,230.2 471.8,240.0 478.9,251.5 482.5,255.0 489.6,259.5 497.6,262.0 501.6,263.5 507.0,254.5 511.5,243.8 517.7,223.4 524.8,205.6 526.6,199.0 532.0,192.0 535.5,193.4 539.4,199.0 544.4,207.4 550.6,221.6 555.0,237.6 558.6,255.3 563.9,273.0 570.0,289.0 574.5,301.5 579.0,311.2 581.6,314.8 587.0,308.6 590.5,305.9 594.0,305.0 599.4,296.0 606.5,286.4 613.6,274.9 621.6,264.2 626.0,264.2 630.4,258.0 636.6,250.0 642.0,244.7 646.4,239.4 650.8,227.0 656.2,205.6 658.8,197.3 663.3,177.8 668.6,152.9 672.0,129.9 677.5,112.0 682.8,101.5 688.0,93.5 693.4,87.6 700.5,90.8 705.9,95.3 713.0,100.0 718.3,100.0 723.6,99.7 728.9,108.6 735.0,121.0 741.4,140.5 745.8,158.3 750.2,170.5 755.3,175.7 761.5,179.3 766.0,172.7 769.5,172.7 774.0,180.0 778.4,190.8 785.5,208.6 790.0,211.0 796.0,215.7 801.5,218.3 805.9,221.9 809.5,231.6 812.5,244.0 814.8,251.0 819.2,270.5 822.8,290.0 826.3,309.5 830.7,327.3 834.3,335.3 837.8,334.4 841.4,332.2 844.9,333.5 849.4,323.7 852.9,307.8 858.3,293.6 862.7,283.8 865.4,283.3 868.9,295.3 872.4,314.9 876.0,339.7 878.7,359.2 881.8,382.0 884.9,406.6 889.3,438.6 893.7,459.9 897.6,467.8 901.7,463.4 906.2,447.4 910.6,427.9 915.0,413.7 919.5,397.7 923.5,382.0 927.5,362.8 931.0,351.0 936.3,344.7 940.8,338.3 944.3,337.9 948.8,345.9 954.0,357.4 959.4,368.0 964.7,377.9 969.2,387.0 975.4,391.0 980.7,391.5 985.0,395.0 989.6,390.6 991.8,381.0 994.9,369.9 998.4,357.5 1004.0,343.0 1009.5,331.0 1013.4,325.7 1016.6,332.0 1020.0,342.6 1023.7,363.9 1028.0,388.7 1032.6,410.0 1036.0,434.9 1037.9,443.0 1043.2,467.9 1049.4,493.6 1053.5,486.5 1057.4,489.0 1061.9,486.5 1066.3,480.0 1071.6,467.9 1077.0,453.0 1082.3,439.0 1086.0,431.0 1089.4,433.0 1093.0,440.2 1101.0,440.2 1106.0,436.0 1110.7,429.5 1114.2,417.0 1117.8,399.4 1121.3,381.6 1125.8,371.0 1128.4,366.0" fill="none" stroke="#0000d0" stroke-width="1"/>
</g>
<g shape-rendering="crispEdges">
<rect x="5" y="151" width="1415" height="3" fill="#ff0000"/>
<rect x="5" y="246" width="1415" height="3" fill="#ff0000"/>
<rect x="5" y="315" width="1415" height="3" fill="#00ff00"/>
<rect x="5" y="427" width="1415" height="3" fill="#0000ff"/>
<rect x="5" y="514" width="1415" height="3" fill="#0000ff"/>
<rect x="4" y="313" width="7" height="7" fill="#00ff00"/>
<rect x="7" y="316" width="1" height="1" fill="#fff"/>
<rect x="1414" y="313" width="7" height="7" fill="#00ff00"/>
<rect x="1417" y="316" width="1" height="1" fill="#fff"/>
<rect x="4" y="425" width="7" height="7" fill="#0000ff"/>
<rect x="7" y="428" width="1" height="1" fill="#fff"/>
<rect x="1414" y="425" width="7" height="7" fill="#0000ff"/>
<rect x="1417" y="428" width="1" height="1" fill="#fff"/>
</g>
<g shape-rendering="crispEdges">
<rect x="4" y="25" width="1417" height="1" fill="#000"/>
<rect x="4" y="564" width="1417" height="1" fill="#000"/>
<rect x="4" y="566" width="1417" height="1" fill="#000"/>
<rect x="4" y="668" width="1417" height="1" fill="#000"/>
<rect x="4" y="671" width="1417" height="1" fill="#000"/>
<rect x="4" y="801" width="1417" height="1" fill="#000"/>
<rect x="4" y="25" width="1" height="540" fill="#000"/>
<rect x="4" y="566" width="1" height="103" fill="#000"/>
<rect x="4" y="671" width="1" height="131" fill="#000"/>
<rect x="1420" y="25" width="1" height="540" fill="#000"/>
<rect x="1420" y="566" width="1" height="103" fill="#000"/>
<rect x="1420" y="671" width="1" height="131" fill="#000"/>
<rect x="1414" y="313" width="7" height="7" fill="#00ff00"/>
<rect x="1417" y="316" width="1" height="1" fill="#fff"/>
<rect x="4" y="313" width="7" height="7" fill="#00ff00"/>
<rect x="7" y="316" width="1" height="1" fill="#fff"/>
<rect x="1414" y="425" width="7" height="7" fill="#0000ff"/>
<rect x="1417" y="428" width="1" height="1" fill="#fff"/>
<rect x="4" y="425" width="7" height="7" fill="#0000ff"/>
<rect x="7" y="428" width="1" height="1" fill="#fff"/>
<polygon points="1131,26 1140,26 1135.5,31" fill="#c0c0c0" shape-rendering="auto"/>
</g>
<g shape-rendering="crispEdges">
<rect x="1421" y="33" width="2" height="1" fill="#000"/>
<rect x="1421" y="66" width="2" height="1" fill="#000"/>
<rect x="1421" y="99" width="2" height="1" fill="#000"/>
<rect x="1421" y="132" width="2" height="1" fill="#000"/>
<rect x="1421" y="165" width="2" height="1" fill="#000"/>
<rect x="1421" y="198" width="2" height="1" fill="#000"/>
<rect x="1421" y="231" width="2" height="1" fill="#000"/>
<rect x="1421" y="264" width="2" height="1" fill="#000"/>
<rect x="1421" y="297" width="2" height="1" fill="#000"/>
<rect x="1421" y="330" width="2" height="1" fill="#000"/>
<rect x="1421" y="363" width="2" height="1" fill="#000"/>
<rect x="1421" y="396" width="2" height="1" fill="#000"/>
<rect x="1421" y="429" width="2" height="1" fill="#000"/>
<rect x="1421" y="462" width="2" height="1" fill="#000"/>
<rect x="1421" y="495" width="2" height="1" fill="#000"/>
<rect x="1421" y="528" width="2" height="1" fill="#000"/>
<rect x="1421" y="561" width="2" height="1" fill="#000"/>
</g>
<text class="ax" x="1426" y="37">1.02580</text>
<text class="ax" x="1426" y="70">1.02200</text>
<text class="ax" x="1426" y="103">1.01820</text>
<text class="ax" x="1426" y="136">1.01440</text>
<text class="ax" x="1426" y="169">1.01050</text>
<text class="ax" x="1426" y="202">1.00670</text>
<text class="ax" x="1426" y="235">1.00290</text>
<text class="ax" x="1426" y="268">0.99910</text>
<text class="ax" x="1426" y="301">0.99530</text>
<text class="ax" x="1426" y="334">0.99140</text>
<text class="ax" x="1426" y="367">0.98760</text>
<text class="ax" x="1426" y="400">0.98380</text>
<text class="ax" x="1426" y="433">0.97990</text>
<text class="ax" x="1426" y="466">0.97610</text>
<text class="ax" x="1426" y="499">0.97230</text>
<text class="ax" x="1426" y="532">0.96850</text>
<text class="ax" x="1426" y="565">0.96470</text>
<g shape-rendering="crispEdges">
<rect x="1422" y="146" width="41" height="11" fill="#ff0000"/>
<rect x="1422" y="241" width="41" height="11" fill="#ff0000"/>
<rect x="1422" y="310" width="41" height="11" fill="#00ff00"/>
<rect x="1422" y="365" width="41" height="11" fill="#000000"/>
<rect x="1422" y="422" width="41" height="11" fill="#0000ff"/>
<rect x="1422" y="509" width="41" height="11" fill="#0000ff"/>
</g>
<text class="axw" x="1426" y="155">1.01205</text>
<text class="axw" x="1426" y="250">1.00106</text>
<text class="axw" x="1426" y="319">0.99307</text>
<text class="axw" x="1426" y="374">0.98686</text>
<text class="axw" x="1426" y="431">0.98004</text>
<text class="axw" x="1426" y="518">0.97001</text>
<g shape-rendering="crispEdges">
<rect x="5" y="576" width="1" height="38" fill="#c0c0c0"/>
<rect x="9" y="577" width="1" height="37" fill="#c0c0c0"/>
<rect x="13" y="578" width="1" height="36" fill="#c0c0c0"/>
<rect x="17" y="578" width="1" height="36" fill="#c0c0c0"/>
<rect x="21" y="578" width="1" height="36" fill="#c0c0c0"/>
<rect x="25" y="578" width="1" height="36" fill="#c0c0c0"/>
<rect x="29" y="578" width="1" height="36" fill="#c0c0c0"/>
<rect x="33" y="578" width="1" height="36" fill="#c0c0c0"/>
<rect x="37" y="578" width="1" height="36" fill="#c0c0c0"/>
<rect x="41" y="578" width="1" height="36" fill="#c0c0c0"/>
<rect x="45" y="578" width="1" height="36" fill="#c0c0c0"/>
<rect x="49" y="578" width="1" height="36" fill="#c0c0c0"/>
<rect x="53" y="578" width="1" height="36" fill="#c0c0c0"/>
<rect x="57" y="578" width="1" height="36" fill="#c0c0c0"/>
<rect x="61" y="578" width="1" height="36" fill="#c0c0c0"/>
<rect x="65" y="578" width="1" height="36" fill="#c0c0c0"/>
<rect x="69" y="578" width="1" height="36" fill="#c0c0c0"/>
<rect x="73" y="578" width="1" height="36" fill="#c0c0c0"/>
<rect x="77" y="578" width="1" height="36" fill="#c0c0c0"/>
<rect x="81" y="578" width="1" height="36" fill="#c0c0c0"/>
<rect x="85" y="578" width="1" height="36" fill="#c0c0c0"/>
<rect x="89" y="579" width="1" height="35" fill="#c0c0c0"/>
<rect x="93" y="579" width="1" height="35" fill="#c0c0c0"/>
<rect x="97" y="580" width="1" height="34" fill="#c0c0c0"/>
<rect x="101" y="581" width="1" height="33" fill="#c0c0c0"/>
<rect x="105" y="581" width="1" height="33" fill="#c0c0c0"/>
<rect x="109" y="581" width="1" height="33" fill="#c0c0c0"/>
<rect x="113" y="581" width="1" height="33" fill="#c0c0c0"/>
<rect x="117" y="582" width="1" height="32" fill="#c0c0c0"/>
<rect x="121" y="583" width="1" height="31" fill="#c0c0c0"/>
<rect x="125" y="584" width="1" height="30" fill="#c0c0c0"/>
<rect x="129" y="586" width="1" height="28" fill="#c0c0c0"/>
<rect x="133" y="590" width="1" height="24" fill="#c0c0c0"/>
<rect x="137" y="595" width="1" height="19" fill="#c0c0c0"/>
<rect x="141" y="602" width="1" height="12" fill="#c0c0c0"/>
<rect x="145" y="607" width="1" height="7" fill="#c0c0c0"/>
<rect x="149" y="611" width="1" height="3" fill="#c0c0c0"/>
<rect x="153" y="613" width="1" height="1" fill="#c0c0c0"/>
<rect x="157" y="613" width="1" height="1" fill="#c0c0c0"/>
<rect x="161" y="613" width="1" height="1" fill="#c0c0c0"/>
<rect x="165" y="613" width="1" height="1" fill="#c0c0c0"/>
<rect x="169" y="613" width="1" height="1" fill="#c0c0c0"/>
<rect x="173" y="613" width="1" height="5" fill="#c0c0c0"/>
<rect x="177" y="613" width="1" height="6" fill="#c0c0c0"/>
<rect x="181" y="613" width="1" height="3" fill="#c0c0c0"/>
<rect x="185" y="613" width="1" height="3" fill="#c0c0c0"/>
<rect x="189" y="613" width="1" height="3" fill="#c0c0c0"/>
<rect x="193" y="613" width="1" height="3" fill="#c0c0c0"/>
<rect x="197" y="613" width="1" height="4" fill="#c0c0c0"/>
<rect x="201" y="613" width="1" height="6" fill="#c0c0c0"/>
<rect x="205" y="613" width="1" height="10" fill="#c0c0c0"/>
<rect x="209" y="613" width="1" height="13" fill="#c0c0c0"/>
<rect x="213" y="613" width="1" height="15" fill="#c0c0c0"/>
<rect x="217" y="613" width="1" height="14" fill="#c0c0c0"/>
<rect x="221" y="613" width="1" height="14" fill="#c0c0c0"/>
<rect x="225" y="613" width="1" height="13" fill="#c0c0c0"/>
<rect x="229" y="613" width="1" height="10" fill="#c0c0c0"/>
<rect x="233" y="613" width="1" height="6" fill="#c0c0c0"/>
<rect x="237" y="613" width="1" height="8" fill="#c0c0c0"/>
<rect x="241" y="613" width="1" height="7" fill="#c0c0c0"/>
<rect x="245" y="613" width="1" height="8" fill="#c0c0c0"/>
<rect x="249" y="613" width="1" height="10" fill="#c0c0c0"/>
<rect x="253" y="613" width="1" height="11" fill="#c0c0c0"/>
<rect x="257" y="613" width="1" height="9" fill="#c0c0c0"/>
<rect x="261" y="613" width="1" height="12" fill="#c0c0c0"/>
<rect x="265" y="613" width="1" height="15" fill="#c0c0c0"/>
<rect x="269" y="613" width="1" height="11" fill="#c0c0c0"/>
<rect x="273" y="613" width="1" height="13" fill="#c0c0c0"/>
<rect x="277" y="613" width="1" height="16" fill="#c0c0c0"/>
<rect x="281" y="613" width="1" height="19" fill="#c0c0c0"/>
<rect x="285" y="613" width="1" height="22" fill="#c0c0c0"/>
<rect x="289" y="613" width="1" height="24" fill="#c0c0c0"/>
<rect x="293" y="613" width="1" height="21" fill="#c0c0c0"/>
<rect x="297" y="613" width="1" height="18" fill="#c0c0c0"/>
<rect x="301" y="613" width="1" height="19" fill="#c0c0c0"/>
<rect x="305" y="613" width="1" height="20" fill="#c0c0c0"/>
<rect x="309" y="613" width="1" height="21" fill="#c0c0c0"/>
<rect x="313" y="613" width="1" height="22" fill="#c0c0c0"/>
<rect x="317" y="613" width="1" height="28" fill="#c0c0c0"/>
<rect x="321" y="613" width="1" height="25" fill="#c0c0c0"/>
<rect x="325" y="613" width="1" height="22" fill="#c0c0c0"/>
<rect x="329" y="613" width="1" height="21" fill="#c0c0c0"/>
<rect x="333" y="613" width="1" height="21" fill="#c0c0c0"/>
<rect x="337" y="613" width="1" height="17" fill="#c0c0c0"/>
<rect x="341" y="613" width="1" height="12" fill="#c0c0c0"/>
<rect x="345" y="613" width="1" height="6" fill="#c0c0c0"/>
<rect x="349" y="613" width="1" height="1" fill="#c0c0c0"/>
<rect x="353" y="610" width="1" height="4" fill="#c0c0c0"/>
<rect x="357" y="605" width="1" height="9" fill="#c0c0c0"/>
<rect x="361" y="602" width="1" height="12" fill="#c0c0c0"/>
<rect x="365" y="601" width="1" height="13" fill="#c0c0c0"/>
<rect x="369" y="599" width="1" height="15" fill="#c0c0c0"/>
<rect x="373" y="600" width="1" height="14" fill="#c0c0c0"/>
<rect x="377" y="601" width="1" height="13" fill="#c0c0c0"/>
<rect x="381" y="603" width="1" height="11" fill="#c0c0c0"/>
<rect x="385" y="602" width="1" height="12" fill="#c0c0c0"/>
<rect x="389" y="601" width="1" height="13" fill="#c0c0c0"/>
<rect x="393" y="601" width="1" height="13" fill="#c0c0c0"/>
<rect x="397" y="602" width="1" height="12" fill="#c0c0c0"/>
<rect x="401" y="601" width="1" height="13" fill="#c0c0c0"/>
<rect x="405" y="601" width="1" height="13" fill="#c0c0c0"/>
<rect x="409" y="598" width="1" height="16" fill="#c0c0c0"/>
<rect x="413" y="595" width="1" height="19" fill="#c0c0c0"/>
<rect x="417" y="593" width="1" height="21" fill="#c0c0c0"/>
<rect x="421" y="593" width="1" height="21" fill="#c0c0c0"/>
<rect x="425" y="594" width="1" height="20" fill="#c0c0c0"/>
<rect x="429" y="592" width="1" height="22" fill="#c0c0c0"/>
<rect x="433" y="589" width="1" height="25" fill="#c0c0c0"/>
<rect x="437" y="586" width="1" height="28" fill="#c0c0c0"/>
<rect x="441" y="586" width="1" height="28" fill="#c0c0c0"/>
<rect x="445" y="586" width="1" height="28" fill="#c0c0c0"/>
<rect x="449" y="587" width="1" height="27" fill="#c0c0c0"/>
<rect x="453" y="589" width="1" height="25" fill="#c0c0c0"/>
<rect x="457" y="591" width="1" height="23" fill="#c0c0c0"/>
<rect x="461" y="594" width="1" height="20" fill="#c0c0c0"/>
<rect x="465" y="596" width="1" height="18" fill="#c0c0c0"/>
<rect x="469" y="599" width="1" height="15" fill="#c0c0c0"/>
<rect x="473" y="601" width="1" height="13" fill="#c0c0c0"/>
<rect x="477" y="603" width="1" height="11" fill="#c0c0c0"/>
<rect x="481" y="604" width="1" height="10" fill="#c0c0c0"/>
<rect x="485" y="605" width="1" height="9" fill="#c0c0c0"/>
<rect x="489" y="608" width="1" height="6" fill="#c0c0c0"/>
<rect x="493" y="609" width="1" height="5" fill="#c0c0c0"/>
<rect x="497" y="611" width="1" height="3" fill="#c0c0c0"/>
<rect x="501" y="611" width="1" height="3" fill="#c0c0c0"/>
<rect x="505" y="609" width="1" height="5" fill="#c0c0c0"/>
<rect x="509" y="607" width="1" height="7" fill="#c0c0c0"/>
<rect x="513" y="602" width="1" height="12" fill="#c0c0c0"/>
<rect x="517" y="600" width="1" height="14" fill="#c0c0c0"/>
<rect x="521" y="599" width="1" height="15" fill="#c0c0c0"/>
<rect x="525" y="596" width="1" height="18" fill="#c0c0c0"/>
<rect x="529" y="596" width="1" height="18" fill="#c0c0c0"/>
<rect x="533" y="599" width="1" height="15" fill="#c0c0c0"/>
<rect x="537" y="600" width="1" height="14" fill="#c0c0c0"/>
<rect x="541" y="603" width="1" height="11" fill="#c0c0c0"/>
<rect x="545" y="605" width="1" height="9" fill="#c0c0c0"/>
<rect x="549" y="607" width="1" height="7" fill="#c0c0c0"/>
<rect x="553" y="611" width="1" height="3" fill="#c0c0c0"/>
<rect x="557" y="613" width="1" height="4" fill="#c0c0c0"/>
<rect x="561" y="613" width="1" height="9" fill="#c0c0c0"/>
<rect x="565" y="613" width="1" height="11" fill="#c0c0c0"/>
<rect x="569" y="613" width="1" height="13" fill="#c0c0c0"/>
<rect x="573" y="613" width="1" height="16" fill="#c0c0c0"/>
<rect x="577" y="613" width="1" height="17" fill="#c0c0c0"/>
<rect x="581" y="613" width="1" height="17" fill="#c0c0c0"/>
<rect x="585" y="613" width="1" height="16" fill="#c0c0c0"/>
<rect x="589" y="613" width="1" height="15" fill="#c0c0c0"/>
<rect x="593" y="613" width="1" height="14" fill="#c0c0c0"/>
<rect x="597" y="613" width="1" height="11" fill="#c0c0c0"/>
<rect x="601" y="613" width="1" height="10" fill="#c0c0c0"/>
<rect x="605" y="613" width="1" height="9" fill="#c0c0c0"/>
<rect x="609" y="613" width="1" height="5" fill="#c0c0c0"/>
<rect x="613" y="613" width="1" height="3" fill="#c0c0c0"/>
<rect x="617" y="613" width="1" height="2" fill="#c0c0c0"/>
<rect x="621" y="613" width="1" height="1" fill="#c0c0c0"/>
<rect x="625" y="613" width="1" height="1" fill="#c0c0c0"/>
<rect x="629" y="613" width="1" height="1" fill="#c0c0c0"/>
<rect x="633" y="611" width="1" height="3" fill="#c0c0c0"/>
<rect x="637" y="609" width="1" height="5" fill="#c0c0c0"/>
<rect x="641" y="608" width="1" height="6" fill="#c0c0c0"/>
<rect x="645" y="607" width="1" height="7" fill="#c0c0c0"/>
<rect x="649" y="603" width="1" height="11" fill="#c0c0c0"/>
<rect x="653" y="599" width="1" height="15" fill="#c0c0c0"/>
<rect x="657" y="593" width="1" height="21" fill="#c0c0c0"/>
<rect x="661" y="590" width="1" height="24" fill="#c0c0c0"/>
<rect x="665" y="586" width="1" height="28" fill="#c0c0c0"/>
<rect x="669" y="581" width="1" height="33" fill="#c0c0c0"/>
<rect x="673" y="578" width="1" height="36" fill="#c0c0c0"/>
<rect x="677" y="575" width="1" height="39" fill="#c0c0c0"/>
<rect x="681" y="574" width="1" height="40" fill="#c0c0c0"/>
<rect x="685" y="574" width="1" height="40" fill="#c0c0c0"/>
<rect x="689" y="574" width="1" height="40" fill="#c0c0c0"/>
<rect x="693" y="575" width="1" height="39" fill="#c0c0c0"/>
<rect x="697" y="577" width="1" height="37" fill="#c0c0c0"/>
<rect x="701" y="578" width="1" height="36" fill="#c0c0c0"/>
<rect x="705" y="580" width="1" height="34" fill="#c0c0c0"/>
<rect x="709" y="583" width="1" height="31" fill="#c0c0c0"/>
<rect x="713" y="585" width="1" height="29" fill="#c0c0c0"/>
<rect x="717" y="585" width="1" height="29" fill="#c0c0c0"/>
<rect x="721" y="586" width="1" height="28" fill="#c0c0c0"/>
<rect x="725" y="589" width="1" height="25" fill="#c0c0c0"/>
<rect x="729" y="594" width="1" height="20" fill="#c0c0c0"/>
<rect x="733" y="599" width="1" height="15" fill="#c0c0c0"/>
<rect x="737" y="606" width="1" height="8" fill="#c0c0c0"/>
<rect x="741" y="610" width="1" height="4" fill="#c0c0c0"/>
<rect x="745" y="613" width="1" height="1" fill="#c0c0c0"/>
<rect x="749" y="613" width="1" height="1" fill="#c0c0c0"/>
<rect x="753" y="613" width="1" height="1" fill="#c0c0c0"/>
<rect x="757" y="613" width="1" height="2" fill="#c0c0c0"/>
<rect x="761" y="613" width="1" height="3" fill="#c0c0c0"/>
<rect x="765" y="613" width="1" height="3" fill="#c0c0c0"/>
<rect x="769" y="613" width="1" height="4" fill="#c0c0c0"/>
<rect x="773" y="613" width="1" height="9" fill="#c0c0c0"/>
<rect x="777" y="613" width="1" height="13" fill="#c0c0c0"/>
<rect x="781" y="613" width="1" height="16" fill="#c0c0c0"/>
<rect x="785" y="613" width="1" height="16" fill="#c0c0c0"/>
<rect x="789" y="613" width="1" height="15" fill="#c0c0c0"/>
<rect x="793" y="613" width="1" height="13" fill="#c0c0c0"/>
<rect x="797" y="613" width="1" height="12" fill="#c0c0c0"/>
<rect x="801" y="613" width="1" height="14" fill="#c0c0c0"/>
<rect x="805" y="613" width="1" height="17" fill="#c0c0c0"/>
<rect x="809" y="613" width="1" height="24" fill="#c0c0c0"/>
<rect x="813" y="613" width="1" height="28" fill="#c0c0c0"/>
<rect x="817" y="613" width="1" height="30" fill="#c0c0c0"/>
<rect x="821" y="613" width="1" height="33" fill="#c0c0c0"/>
<rect x="825" y="613" width="1" height="38" fill="#c0c0c0"/>
<rect x="829" y="613" width="1" height="39" fill="#c0c0c0"/>
<rect x="833" y="613" width="1" height="40" fill="#c0c0c0"/>
<rect x="837" y="613" width="1" height="39" fill="#c0c0c0"/>
<rect x="841" y="613" width="1" height="36" fill="#c0c0c0"/>
<rect x="845" y="613" width="1" height="34" fill="#c0c0c0"/>
<rect x="849" y="613" width="1" height="29" fill="#c0c0c0"/>
<rect x="853" y="613" width="1" height="24" fill="#c0c0c0"/>
<rect x="857" y="613" width="1" height="21" fill="#c0c0c0"/>
<rect x="861" y="613" width="1" height="18" fill="#c0c0c0"/>
<rect x="865" y="613" width="1" height="18" fill="#c0c0c0"/>
<rect x="869" y="613" width="1" height="25" fill="#c0c0c0"/>
<rect x="873" y="613" width="1" height="33" fill="#c0c0c0"/>
<rect x="877" y="613" width="1" height="40" fill="#c0c0c0"/>
<rect x="881" y="613" width="1" height="46" fill="#c0c0c0"/>
<rect x="885" y="613" width="1" height="49" fill="#c0c0c0"/>
<rect x="889" y="613" width="1" height="49" fill="#c0c0c0"/>
<rect x="893" y="613" width="1" height="50" fill="#c0c0c0"/>
<rect x="897" y="613" width="1" height="50" fill="#c0c0c0"/>
<rect x="901" y="613" width="1" height="47" fill="#c0c0c0"/>
<rect x="905" y="613" width="1" height="40" fill="#c0c0c0"/>
<rect x="909" y="613" width="1" height="36" fill="#c0c0c0"/>
<rect x="913" y="613" width="1" height="32" fill="#c0c0c0"/>
<rect x="917" y="613" width="1" height="28" fill="#c0c0c0"/>
<rect x="921" y="613" width="1" height="21" fill="#c0c0c0"/>
<rect x="925" y="613" width="1" height="16" fill="#c0c0c0"/>
<rect x="929" y="613" width="1" height="10" fill="#c0c0c0"/>
<rect x="933" y="613" width="1" height="5" fill="#c0c0c0"/>
<rect x="937" y="613" width="1" height="4" fill="#c0c0c0"/>
<rect x="941" y="613" width="1" height="3" fill="#c0c0c0"/>
<rect x="945" y="613" width="1" height="4" fill="#c0c0c0"/>
<rect x="949" y="613" width="1" height="6" fill="#c0c0c0"/>
<rect x="953" y="613" width="1" height="7" fill="#c0c0c0"/>
<rect x="957" y="613" width="1" height="6" fill="#c0c0c0"/>
<rect x="961" y="613" width="1" height="6" fill="#c0c0c0"/>
<rect x="965" y="613" width="1" height="7" fill="#c0c0c0"/>
<rect x="969" y="613" width="1" height="9" fill="#c0c0c0"/>
<rect x="973" y="613" width="1" height="10" fill="#c0c0c0"/>
<rect x="977" y="613" width="1" height="10" fill="#c0c0c0"/>
<rect x="981" y="613" width="1" height="9" fill="#c0c0c0"/>
<rect x="985" y="613" width="1" height="8" fill="#c0c0c0"/>
<rect x="989" y="613" width="1" height="5" fill="#c0c0c0"/>
<rect x="993" y="613" width="1" height="1" fill="#c0c0c0"/>
<rect x="997" y="611" width="1" height="3" fill="#c0c0c0"/>
<rect x="1001" y="609" width="1" height="5" fill="#c0c0c0"/>
<rect x="1005" y="608" width="1" height="6" fill="#c0c0c0"/>
<rect x="1009" y="606" width="1" height="8" fill="#c0c0c0"/>
<rect x="1013" y="606" width="1" height="8" fill="#c0c0c0"/>
<rect x="1017" y="613" width="1" height="1" fill="#c0c0c0"/>
<rect x="1021" y="613" width="1" height="1" fill="#c0c0c0"/>
<rect x="1025" y="613" width="1" height="10" fill="#c0c0c0"/>
<rect x="1029" y="613" width="1" height="14" fill="#c0c0c0"/>
<rect x="1033" y="613" width="1" height="18" fill="#c0c0c0"/>
<rect x="1037" y="613" width="1" height="23" fill="#c0c0c0"/>
<rect x="1041" y="613" width="1" height="26" fill="#c0c0c0"/>
<rect x="1045" y="613" width="1" height="29" fill="#c0c0c0"/>
<rect x="1049" y="613" width="1" height="32" fill="#c0c0c0"/>
<rect x="1053" y="613" width="1" height="30" fill="#c0c0c0"/>
<rect x="1057" y="613" width="1" height="29" fill="#c0c0c0"/>
<rect x="1061" y="613" width="1" height="27" fill="#c0c0c0"/>
<rect x="1065" y="613" width="1" height="26" fill="#c0c0c0"/>
<rect x="1069" y="613" width="1" height="21" fill="#c0c0c0"/>
<rect x="1073" y="613" width="1" height="17" fill="#c0c0c0"/>
<rect x="1077" y="613" width="1" height="16" fill="#c0c0c0"/>
<rect x="1081" y="613" width="1" height="12" fill="#c0c0c0"/>
<rect x="1085" y="613" width="1" height="7" fill="#c0c0c0"/>
<rect x="1089" y="613" width="1" height="10" fill="#c0c0c0"/>
<rect x="1093" y="613" width="1" height="13" fill="#c0c0c0"/>
<rect x="1097" y="613" width="1" height="11" fill="#c0c0c0"/>
<rect x="1101" y="613" width="1" height="7" fill="#c0c0c0"/>
<rect x="1105" y="613" width="1" height="5" fill="#c0c0c0"/>
<rect x="1109" y="613" width="1" height="1" fill="#c0c0c0"/>
<rect x="1113" y="609" width="1" height="5" fill="#c0c0c0"/>
<rect x="1117" y="605" width="1" height="9" fill="#c0c0c0"/>
<rect x="1121" y="601" width="1" height="13" fill="#c0c0c0"/>
<rect x="1125" y="600" width="1" height="14" fill="#c0c0c0"/>
<rect x="1129" y="600" width="1" height="14" fill="#c0c0c0"/>
<polyline points="5.4,586.6 12.3,580.8 21.3,577.6 65.5,577.6 114.7,577.6 131.1,581.3 139.3,584.1 147.4,590.7 155.6,598.0 163.8,605.4 172.0,611.1 180.2,615.2 188.4,616.1 199.9,616.4 208.1,619.3 217.9,621.8 229.4,624.3 233.4,624.4 245.8,624.4 249.8,623.4 257.7,622.4 265.6,623.4 271.6,623.4 277.5,625.4 283.4,626.4 289.4,628.9 295.3,630.3 307.2,632.3 317.1,635.7 336.9,635.3 348.8,630.3 354.7,625.4 360.6,619.4 366.6,613.5 372.5,608.6 378.5,604.6 384.4,601.6 394.3,600.6 414.1,600.0 422.0,598.1 431.9,594.7 439.8,591.7 445.8,589.4 449.7,588.4 465.6,588.4 473.5,591.3 485.3,597.3 495.2,602.2 505.1,607.0 510.0,607.6 517.9,606.2 521.9,605.2 529.8,602.2 535.7,601.0 539.7,599.7 547.6,599.7 553.5,601.6 559.5,604.6 565.4,609.2 571.4,614.5 577.3,619.4 583.2,623.4 589.2,626.0 595.1,627.4 605.0,627.4 612.9,625.0 618.9,622.8 624.8,620.4 630.7,617.9 636.7,615.5 642.6,613.5 648.6,610.5 654.5,607.2 660.4,603.6 666.4,599.7 672.3,594.7 678.3,588.8 684.2,583.8 690.1,579.5 696.1,576.9 702.0,575.3 707.9,575.9 713.9,577.5 719.8,579.5 725.8,581.4 731.7,584.8 737.6,589.8 743.6,594.3 749.5,599.7 755.4,603.6 761.4,608.6 767.3,612.5 773.3,615.5 779.2,618.5 785.1,621.4 790.0,622.4 797.9,624.4 805.8,627.8 813.8,630.9 821.7,634.9 829.6,640.8 837.5,645.8 845.4,648.1 853.3,648.1 859.3,645.2 865.2,642.2 871.2,639.6 877.1,640.8 883.0,642.2 889.0,646.8 894.9,652.1 900.8,657.4 906.8,659.0 912.7,658.4 918.7,655.1 924.6,650.1 930.5,643.8 936.5,636.9 942.4,630.3 948.4,625.0 954.3,621.0 960.2,619.8 968.1,619.4 974.1,619.8 980.0,622.4 987.9,622.4 993.9,621.4 999.8,619.0 1005.8,616.5 1011.7,613.5 1017.6,611.5 1023.6,610.5 1029.5,613.1 1035.4,617.1 1041.4,621.4 1047.3,628.4 1053.3,634.3 1059.2,638.2 1065.1,640.6 1070.0,640.2 1076.9,638.2 1082.9,635.7 1088.8,632.9 1094.7,629.7 1100.7,626.8 1106.6,624.0 1112.6,621.0 1118.5,617.9 1125.4,613.5" fill="none" stroke="#ff0000" stroke-width="1" stroke-dasharray="3 3"/>
<rect x="1421" y="568" width="1" height="1" fill="#000"/>
<rect x="1421" y="613" width="1" height="1" fill="#000"/>
<rect x="1421" y="668" width="1" height="1" fill="#000"/>
</g>
<text class="ax" x="1424" y="577">0.006286</text>
<text class="ax" x="1424" y="617">0.00</text>
<text class="ax" x="1424" y="666.5">-0.00762</text>
<g shape-rendering="crispEdges">
<line x1="6" y1="711.5" x2="1420" y2="711.5" stroke="#c0c0c0" stroke-width="1" stroke-dasharray="3 3"/>
<line x1="6" y1="762.5" x2="1420" y2="762.5" stroke="#c0c0c0" stroke-width="1" stroke-dasharray="3 3"/>
<polyline points="4.9,720.5 11.9,717.5 17.4,717.5 21.4,727.4 29.7,715.5 37.6,712.2 45.5,715.5 49.5,719.1 57.4,711.6 61.8,719.1 65.7,718.1 69.3,712.6 77.6,704.6 81.6,721.5 85.5,717.5 89.5,723.4 93.0,720.5 97.4,727.4 101.3,726.4 105.3,720.5 113.2,720.5 117.2,714.5 121.7,724.0 126.7,724.0 129.7,723.0 133.0,737.9 137.0,739.7 141.3,749.2 145.5,746.2 153.4,746.2 157.4,740.3 161.3,740.3 165.3,738.3 169.2,737.3 173.6,748.2 181.5,733.3 185.5,736.3 189.4,737.7 193.4,737.9 197.3,739.3 205.3,754.1 209.2,753.1 213.2,753.1 217.3,743.2 221.3,744.2 225.3,741.7 229.6,731.4 233.6,732.9 237.5,742.8 241.5,744.2 245.4,740.3 249.4,753.1 253.4,736.3 257.3,737.9 261.7,750.2 265.6,749.2 269.6,735.3 273.6,744.8 277.5,746.8 280.0,748.2 284.9,752.1 289.5,749.2 293.5,738.3 297.4,741.3 301.4,742.2 305.3,743.2 309.3,752.1 313.3,749.2 317.6,757.1 321.6,740.3 329.5,740.3 333.4,744.2 337.4,734.3 341.4,730.4 346.3,726.4 349.3,725.4 353.2,725.4 357.2,723.4 361.2,723.4 365.5,728.4 369.1,727.4 373.4,732.4 377.4,733.3 381.3,734.3 385.3,729.4 389.9,731.4 393.2,731.4 397.8,728.4 401.7,728.4 406.7,722.5 409.7,720.5 413.6,715.5 417.6,715.5 421.5,723.0 425.5,725.0 429.8,716.5 433.8,712.6 437.8,709.2 441.7,721.5 447.3,721.5 449.6,722.5 453.6,722.5 457.6,731.4 461.5,734.3 465.5,733.3 470.0,735.3 479.9,735.3 485.5,733.3 489.4,744.2 493.4,737.7 497.3,739.3 501.3,737.3 505.3,723.4 509.2,723.4 513.6,711.6 517.5,722.5 521.5,721.1 525.4,717.5 529.4,726.0 533.4,734.9 537.3,735.3 541.7,738.3 545.6,738.3 549.6,741.3 553.6,746.2 557.5,759.1 560.0,757.5 565.5,750.2 569.5,751.6 573.5,754.1 577.4,749.2 581.4,747.2 585.3,746.2 589.3,743.6 593.3,744.8 597.2,733.7 601.6,737.3 605.5,739.3 609.5,732.4 613.4,732.4 617.4,731.4 621.8,734.3 625.7,733.3 629.7,725.8 633.6,724.0 637.6,724.0 641.6,726.4 645.5,722.5 649.5,713.5 653.4,706.6 657.4,701.3 661.9,704.6 665.3,703.7 669.3,697.7 673.8,697.1 677.8,699.7 681.7,703.3 685.7,703.3 689.7,702.1 693.0,703.7 697.6,713.2 701.5,709.6 705.5,717.1 709.8,722.5 713.8,719.5 717.8,714.5 721.7,713.2 725.7,733.3 729.6,740.3 733.6,746.2 737.6,755.1 741.5,745.2 745.5,746.2 749.4,741.3 753.4,739.3 757.3,740.3 761.5,745.2 765.5,738.3 769.4,743.2 773.4,754.1 777.3,757.1 781.3,755.1 785.3,748.2 789.6,740.9 793.6,738.3 797.5,741.3 801.5,752.7 805.4,755.1 809.4,762.6 813.4,764.0 817.3,759.5 821.7,763.4 825.6,768.0 829.6,759.5 833.6,760.1 837.5,753.1 842.0,746.2 845.5,748.2 849.5,737.3 853.5,737.3 857.4,738.3 861.4,734.3 865.3,748.2 869.3,761.4 873.3,764.0 877.6,766.4 881.6,768.4 885.5,762.0 889.5,757.1 893.4,758.1 897.4,759.5 901.4,750.2 905.3,738.3 909.3,740.3 913.2,740.3 917.2,741.3 921.6,730.0 925.5,731.4 929.5,727.4 933.4,728.0 937.4,738.3 941.3,734.3 945.3,743.2 953.8,743.2 957.8,736.3 961.7,738.3 965.7,745.2 969.7,745.2 973.6,744.2 977.6,745.2 981.5,739.3 985.5,739.9 989.8,728.4 993.8,723.4 997.8,725.4 1001.7,729.4 1005.7,733.3 1009.6,725.4 1013.6,733.3 1017.6,746.2 1021.5,746.6 1025.5,760.5 1029.4,750.2 1033.4,750.8 1037.3,752.1 1041.5,754.1 1045.5,755.7 1049.4,758.1 1053.4,744.2 1057.3,748.2 1061.3,744.2 1065.3,740.7 1069.6,738.3 1073.6,735.3 1077.5,740.3 1081.5,733.3 1085.4,731.0 1089.4,744.8 1093.4,747.2 1097.3,737.3 1101.7,734.3 1105.6,733.9 1109.6,727.4 1113.6,722.1 1117.5,724.0 1121.5,723.0 1125.4,729.0 1129.0,729.4" fill="none" stroke="#1e90ff" stroke-width="1"/>
<rect x="1421" y="673" width="1" height="1" fill="#000"/>
<rect x="1421" y="801" width="1" height="1" fill="#000"/>
</g>
<text class="ax" x="1424" y="682">100</text>
<text class="ax" x="1423.5" y="715">70</text>
<text class="ax" x="1423.5" y="766">30</text>
<text class="ax" x="1424" y="798">0</text>
<g shape-rendering="crispEdges">
<rect x="5" y="802" width="1" height="3" fill="#000"/>
<rect x="69" y="802" width="1" height="3" fill="#000"/>
<rect x="133" y="802" width="1" height="3" fill="#000"/>
<rect x="197" y="802" width="1" height="3" fill="#000"/>
<rect x="261" y="802" width="1" height="3" fill="#000"/>
<rect x="325" y="802" width="1" height="3" fill="#000"/>
<rect x="389" y="802" width="1" height="3" fill="#000"/>
<rect x="453" y="802" width="1" height="3" fill="#000"/>
<rect x="517" y="802" width="1" height="3" fill="#000"/>
<rect x="581" y="802" width="1" height="3" fill="#000"/>
<rect x="645" y="802" width="1" height="3" fill="#000"/>
<rect x="709" y="802" width="1" height="3" fill="#000"/>
<rect x="773" y="802" width="1" height="3" fill="#000"/>
<rect x="837" y="802" width="1" height="3" fill="#000"/>
<rect x="901" y="802" width="1" height="3" fill="#000"/>
<rect x="965" y="802" width="1" height="3" fill="#000"/>
<rect x="1029" y="802" width="1" height="3" fill="#000"/>
<rect x="1093" y="802" width="1" height="3" fill="#000"/>
</g>
<text class="tt" x="4.5" y="814" textLength="50.5" lengthAdjust="spacing">10 Oct 2018</text>
<text class="tt" x="68.5" y="814" textLength="50.8" lengthAdjust="spacing">29 Oct 2018</text>
<text class="tt" x="132.5" y="814" textLength="52.8" lengthAdjust="spacing">16 Nov 2018</text>
<text class="tt" x="196.5" y="814" textLength="45.4" lengthAdjust="spacing">5 Dec 2018</text>
<text class="tt" x="260.5" y="814" textLength="51.2" lengthAdjust="spacing">24 Dec 2018</text>
<text class="tt" x="324.5" y="814" textLength="49.2" lengthAdjust="spacing">11 Jan 2019</text>
<text class="tt" x="388.5" y="814" textLength="49.7" lengthAdjust="spacing">30 Jan 2019</text>
<text class="tt" x="452.5" y="814" textLength="51" lengthAdjust="spacing">18 Feb 2019</text>
<text class="tt" x="516.5" y="814" textLength="46.7" lengthAdjust="spacing">8 Mar 2019</text>
<text class="tt" x="580.5" y="814" textLength="51.7" lengthAdjust="spacing">27 Mar 2019</text>
<text class="tt" x="644.5" y="814" textLength="50.4" lengthAdjust="spacing">15 Apr 2019</text>
<text class="tt" x="708.5" y="814" textLength="49.2" lengthAdjust="spacing">5 May 2019</text>
<text class="tt" x="772.5" y="814" textLength="54" lengthAdjust="spacing">23 May 2019</text>
<text class="tt" x="836.5" y="814" textLength="48.8" lengthAdjust="spacing">11 Jun 2019</text>
<text class="tt" x="900.5" y="814" textLength="48.4" lengthAdjust="spacing">30 Jun 2019</text>
<text class="tt" x="964.5" y="814" textLength="45.9" lengthAdjust="spacing">18 Jul 2019</text>
<text class="tt" x="1028.5" y="814" textLength="46.3" lengthAdjust="spacing">6 Aug 2019</text>
<text class="tt" x="1092.5" y="814" textLength="51.6" lengthAdjust="spacing">25 Aug 2019</text>
<g shape-rendering="crispEdges">
<rect x="8" y="32" width="7" height="1" fill="#000"/>
<rect x="9" y="33" width="5" height="1" fill="#000"/>
<rect x="10" y="34" width="3" height="1" fill="#000"/>
<rect x="11" y="35" width="1" height="1" fill="#000"/>
</g>
<text class="tt" x="20.5" y="37" textLength="67" lengthAdjust="spacing">USDCHF-,Daily</text>
<text class="ax" x="94.2" y="37">0.98679</text>
<text class="ax" x="130.4" y="37">0.98708</text>
<text class="ax" x="166.3" y="37">0.98634</text>
<text class="ax" x="202.3" y="37">0.98686</text>
<text class="tt" x="9.3" y="579" textLength="147.7" lengthAdjust="spacing">MACD(12,26,9) 0.001961 0.000449</text>
<text class="tt" x="8.9" y="684" textLength="67.7" lengthAdjust="spacing">RSI(14) 55.5641</text>
<text class="tb" x="8" y="13">H4</text>
<text class="tb" x="36.5" y="13">D1</text>
<text class="tb" x="64" y="13">W1</text>
<text class="tb" x="90.5" y="13">MN</text>
<text class="tab" x="17.2" y="839" textLength="85.2" lengthAdjust="spacing">EURUSD-,Daily</text>
<text class="tab" x="124.2" y="839" textLength="86.8" lengthAdjust="spacing">AUDUSD-,Daily</text>
<text class="taba" x="234.3" y="839" textLength="83.7" lengthAdjust="spacing">USDCHF-,Daily</text>
<text class="tab" x="341.4" y="839" textLength="85.6" lengthAdjust="spacing">USDCAD-,Daily</text>
<text class="tab" x="450.3" y="839" textLength="87.9" lengthAdjust="spacing">USDCNH-,Daily</text>
<text class="tab" x="561" y="839" textLength="97.5" lengthAdjust="spacing">EURCHF-,Weekly</text>
<text class="tab" x="682.2" y="839" textLength="99.8" lengthAdjust="spacing">XAUUSD-,Weekly</text>
<text class="tab" x="805" y="839" textLength="73.3" lengthAdjust="spacing">GBPUSD-,H1</text>
<text class="tab" x="901.2" y="839" textLength="56.2" lengthAdjust="spacing">UKOil-,H1</text>
<text class="tab" x="980.7" y="839" textLength="82.3" lengthAdjust="spacing">USDX-,Weekly</text>
<polygon points="1439,830 1439,837 1435.5,833.5" fill="#a0a0a0"/>
<polygon points="1455,830 1455,837 1458.5,833.5" fill="#a0a0a0"/>
</svg></body></html>
